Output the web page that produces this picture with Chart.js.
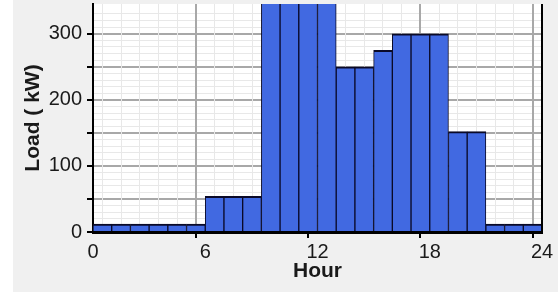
<!DOCTYPE html>
<html>
<head>
<meta charset="utf-8">
<script src="https://cdn.jsdelivr.net/npm/chart.js@4/dist/chart.umd.min.js"></script>
<style>
    html, body { margin: 0; padding: 0; background: #ffffff; }
    #wrap { width: 558px; height: 296px; }
</style>
</head>
<body>
<div id="wrap"><canvas id="loadChart" width="558" height="296"></canvas></div>
<script>
// hourly load profile (kW), one bar per hour
const hours = [0, 1, 2, 3, 4, 5, 6, 7, 8, 9, 10, 11, 12, 13, 14, 15, 16, 17, 18, 19, 20, 21, 22, 23];
const loads = [12, 12, 12, 12, 12, 12, 54, 54, 54, 400, 400, 400, 400, 250, 250, 275, 300, 300, 300, 152, 152, 12, 12, 12];
const xTickLabels = [0, 6, 12, 18, 24];
const yTickLabels = [0, 100, 200, 300];

const PLOT_LEFT = 93;
const PLOT_BOTTOM = 232;

// grey panel, white plot area, right frame line
const panelPlugin = {
    id: "panel",
    beforeDraw: function(chart) 
    {
        const ctx = chart.ctx;
        const a = chart.chartArea;
        ctx.save();
        ctx.fillStyle = "#ffffff";
        ctx.fillRect(0, 0, chart.width, chart.height);
        ctx.fillStyle = "#f0f0f0";
        ctx.fillRect(13, 0, chart.width - 13, 292);
        ctx.fillStyle = "#ffffff";
        ctx.fillRect(a.left, a.top, a.right - a.left, a.bottom - a.top);
        ctx.restore();
    },
    afterDraw: function(chart) 
    {
        const ctx = chart.ctx;
        const a = chart.chartArea;
        ctx.save();
        ctx.strokeStyle = "#000000";
        ctx.lineWidth = 2;
        ctx.beginPath();
        ctx.moveTo(a.right, a.top);
        ctx.lineTo(a.right, a.bottom);
        ctx.stroke();
        ctx.restore();
    }
};

new Chart(document.getElementById("loadChart").getContext("2d"), 
{
    type: "bar",
    data: 
    {
        datasets: [
            {
                label: "Load",
                data: hours.map(function(h, i) { return { x: h + 0.5, y: loads[i] }; }),
                backgroundColor: "#4169e1",
                borderColor: "#0a0a28",
                borderWidth: { top: 2, left: 1, right: 1, bottom: 0 },
                borderSkipped: false,
                barPercentage: 1,
                categoryPercentage: 1
            }
        ]
    },
    plugins: [panelPlugin],
    options: 
    {
        responsive: false,
        animation: false,
        layout: { padding: { left: 0, right: 16, top: 4, bottom: 0 } },
        plugins: 
        {
            legend: { display: false },
            tooltip: { enabled: false }
        },
        scales: 
        {
            y: 
            {
                min: 0,
                max: 345,
                afterFit: function(scale) 
                {
                    scale.width = PLOT_LEFT;
                    scale.paddingTop = 0;
                    scale.paddingBottom = 0;
                },
                ticks: 
                {
                    stepSize: 10,
                    autoSkip: false,
                    padding: 5,
                    color: "#1a1a1a",
                    font: { family: "Liberation Sans", size: 20 },
                    callback: function(v) { return yTickLabels.includes(v) ? String(v) : ""; }
                },
                grid: 
                {
                    color: function(c) 
                    {
                        const v = c.tick ? c.tick.value : 0;
                        if (v % 10 !== 0) return "rgba(0,0,0,0)";
                        return v % 50 === 0 ? "#a8a8a8" : "#e8e8e8";
                    },
                    lineWidth: function(c) { return c.tick && c.tick.value % 50 === 0 ? 2 : 1; },
                    tickColor: function(c) { return c.tick && c.tick.value % 50 === 0 ? "#000000" : "rgba(0,0,0,0)"; },
                    tickWidth: 2,
                    tickLength: 6
                },
                border: { color: "#000000", width: 2 },
                title: 
                {
                    display: true,
                    text: "Load ( kW)",
                    color: "#1a1a1a",
                    font: { family: "Liberation Sans", size: 21, weight: "bold" },
                    padding: { top: 21, bottom: 0 }
                }
            },
            x: 
            {
                type: "linear",
                offset: false,
                min: 0,
                max: 24,
                afterFit: function(scale) 
                {
                    scale.height = 296 - PLOT_BOTTOM;
                    scale.paddingLeft = 0;
                    scale.paddingRight = 0;
                },
                ticks: 
                {
                    stepSize: 1,
                    autoSkip: false,
                    maxRotation: 0,
                    padding: 2,
                    color: "#1a1a1a",
                    font: { family: "Liberation Sans", size: 20 },
                    callback: function(v) { return xTickLabels.includes(v) ? String(v) : ""; }
                },
                grid: 
                {
                    color: function(c) { return c.tick && c.tick.value % 6 === 0 ? "#a8a8a8" : "#e8e8e8"; },
                    lineWidth: function(c) { return c.tick && c.tick.value % 6 === 0 ? 2 : 1; },
                    tickColor: function(c) { return c.tick && c.tick.value % 6 === 0 ? "#000000" : "rgba(0,0,0,0)"; },
                    tickWidth: 2,
                    tickLength: 6
                },
                border: { color: "#000000", width: 3 },
                title: 
                {
                    display: true,
                    text: "Hour",
                    color: "#1a1a1a",
                    font: { family: "Liberation Sans", size: 21, weight: "bold" },
                    padding: { top: 0, bottom: 12 }
                }
            }
        }
    }
});
</script>
</body>
</html>
